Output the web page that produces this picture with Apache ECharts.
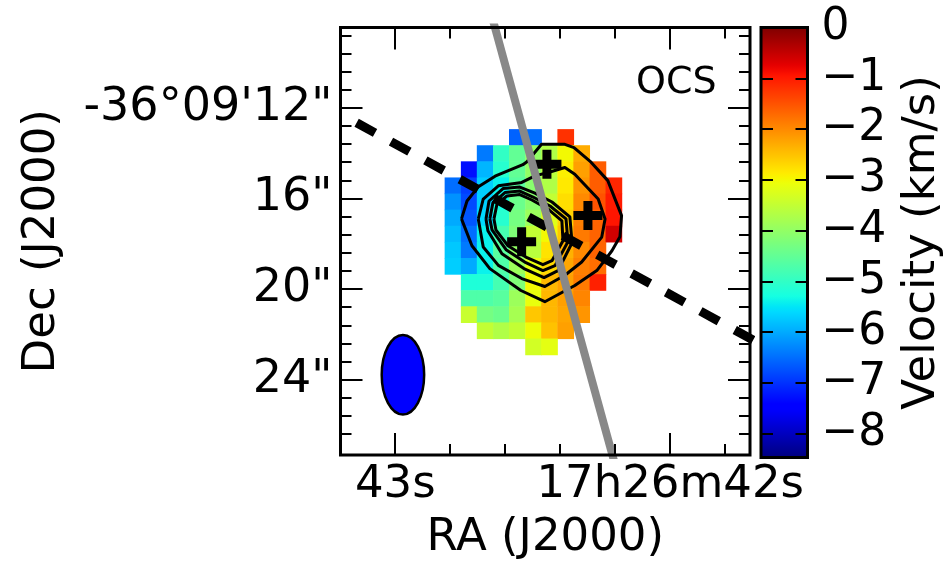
<!DOCTYPE html>
<html>
<head>
<meta charset="utf-8">
<script src="https://cdn.jsdelivr.net/npm/echarts@6.0.0/dist/echarts.min.js"></script>
<style>html,body{margin:0;padding:0;background:#fff}#c{width:947px;height:566px}</style>
</head>
<body>
<div id="c"></div>
<script>
// ---------------- DATA ----------------
// Pixel (cell) centres: RA in seconds of 17h26m, Dec in arcsec of -36d09m
const raCenters = [42.790, 42.731, 42.673, 42.614, 42.556, 42.497, 42.439, 42.380, 42.322, 42.263, 42.205];
const decCenters = [13.308, 14.019, 14.730, 15.442, 16.153, 16.864, 17.575, 18.286, 18.998, 19.709, 20.420, 21.131, 21.842, 22.554];
const cellWidthRA = 0.0585;   // s
const cellHeightDec = 0.711;  // arcsec
const n = null;
// OCS velocity (km/s), rows follow decCenters, columns follow raCenters
const velocity = [
  [n, n, n, n, -6.6, -6.5, n, -1.2, n, n, n],
  [n, n, -6.4, -5.0, -4.5, -4.0, -3.7, -3.0, -2.3, n, n],
  [n, -7.3, -5.9, -5.1, -4.5, -4.0, -3.6, -2.9, -2.2, -1.6, n],
  [-6.5, -6.9, -5.7, -5.4, -4.6, -4.1, -3.7, -2.85, -2.1, -1.6, -1.1],
  [-6.2, -6.8, -5.7, -5.3, -4.4, -4.1, -3.5, -2.75, -2.0, -1.5, -1.0],
  [-6.0, -6.7, -5.6, -5.1, -4.3, -3.9, -3.2, -2.65, -1.9, -1.65, -0.95],
  [-5.85, -6.5, -5.4, -4.8, -4.2, -3.5, -3.0, -2.55, -1.85, -1.65, -0.6],
  [-5.75, -6.4, -5.4, -4.6, -4.0, -3.6, -2.8, -2.35, -2.0, -1.65, n],
  [-5.7, -6.0, -5.4, -4.7, -3.9, -3.1, -2.7, -2.25, -1.9, -1.75, n],
  [n, -5.2, -5.2, -4.8, -4.2, -3.0, -2.4, -2.2, -1.85, -1.05, n],
  [n, -4.7, -4.7, -4.6, -3.9, -3.1, -2.4, -2.2, -1.95, n, n],
  [n, -3.45, -4.3, -4.4, -3.8, -2.55, -2.4, -2.25, -2.1, n, n],
  [n, n, -3.5, -3.7, -3.5, -3.05, -2.5, -2.2, n, n, n],
  [n, n, n, n, n, -3.35, -3.15, n, n, n, n]
];
// Continuum contours [RA s, Dec arcsec]
const contour1 = [[42.759,16.903],[42.739,16.113],[42.699,15.499],[42.637,15.016],[42.536,14.511],[42.521,14.379],[42.468,13.611],[42.383,13.611],[42.350,13.756],[42.288,14.401],[42.227,15.213],[42.177,16.759],[42.183,17.694],[42.212,18.308],[42.267,19.186],[42.347,19.845],[42.456,20.560],[42.543,20.064],[42.656,19.098],[42.721,18.089]];
const contour2 = [[42.698,16.903],[42.680,16.025],[42.625,15.442],[42.540,15.292],[42.492,15.003],[42.444,14.853],[42.383,14.634],[42.347,14.928],[42.262,16.025],[42.237,16.903],[42.249,17.707],[42.322,18.804],[42.383,19.392],[42.456,19.889],[42.540,19.537],[42.625,18.954],[42.680,18.146]];
const contour3 = [[42.670,16.903],[42.659,16.113],[42.608,15.565],[42.547,15.499],[42.492,15.762],[42.430,16.157],[42.365,16.816],[42.357,17.957],[42.408,19.186],[42.459,19.493],[42.532,19.098],[42.612,18.440],[42.663,17.430]];
const contour4 = [[42.656,16.903],[42.645,16.201],[42.601,15.740],[42.547,15.674],[42.499,15.938],[42.437,16.333],[42.379,16.903],[42.372,17.913],[42.419,18.967],[42.463,19.186],[42.525,18.835],[42.597,18.264],[42.648,17.386]];
const contour5 = [[42.641,16.903],[42.630,16.245],[42.594,15.894],[42.547,15.828],[42.503,16.069],[42.445,16.464],[42.394,16.991],[42.390,17.869],[42.430,18.747],[42.463,18.923],[42.521,18.615],[42.590,18.089],[42.634,17.386]];
// Continuum sources (plus markers)
const protostars = [[42.4484, 14.489], [42.2993, 16.750], [42.5404, 17.913]];
// Outflow axis (grey) and disk axis (dashed)
const outflowAxis = [[42.6647, 7.246], [42.188, 28.317]];
const diskAxis = [[43.1404, 12.658], [41.5284, 23.383]];
// Synthesized beam
const beamCenter = [42.972, 23.782];
const beamMajor = 3.51;   // arcsec (N-S)
const beamMinor = 1.87;   // arcsec (E-W)
const decDeg = -36.153;
// Axis ticks
const raMajorTicks = [42, 43];
const raMinorTicks = [41.8, 42.2, 42.4, 42.6, 42.8];
const decMajorTicks = [12, 16, 20, 24];
const decMinorTicks = [8.8, 9.6, 10.4, 11.2, 12.8, 13.6, 14.4, 15.2, 16.8, 17.6, 18.4, 19.2, 20.8, 21.6, 22.4, 23.2, 24.8, 25.6, 26.4];
const colorbarTicks = [-8, -7, -6, -5, -4, -3, -2, -1, 0];
const RA_MIN = 41.710, RA_MAX = 43.199;
const DEC_MIN = 8.453, DEC_MAX = 27.327;
const CB_MIN = -8.47, CB_MAX = 0;

// ---------------- STYLE ----------------
const FONT = 'DejaVu Sans';
function interp(pts, t) {
  for (let i = 1; i < pts.length; i++) {
    if (t <= pts[i][0]) {
      const a = pts[i - 1], b = pts[i];
      return a[1] + (b[1] - a[1]) * (t - a[0]) / (b[0] - a[0]);
    }
  }
  return pts[pts.length - 1][1];
}
const JR = [[0,0],[0.35,0],[0.66,1],[0.89,1],[1,0.5]];
const JG = [[0,0],[0.125,0],[0.375,1],[0.64,1],[0.91,0],[1,0]];
const JB = [[0,0.5],[0.11,1],[0.34,1],[0.65,0],[1,0]];
function jet(t) {
  const f = x => Math.round(255 * x);
  return 'rgb(' + f(interp(JR, t)) + ',' + f(interp(JG, t)) + ',' + f(interp(JB, t)) + ')';
}
const NSTOP = 81;
const jetColors = [], jetStops = [];
for (let i = 0; i < NSTOP; i++) {
  const t = i / (NSTOP - 1);
  jetColors.push(jet(t));
  jetStops.push({ offset: t, color: jet(t) });
}

const cells = [];
velocity.forEach((row, r) => row.forEach((v, c) => {
  if (v !== null) cells.push([raCenters[c], decCenters[r], v]);
}));

const tickStyle = { color: '#000', width: 2 };
const txt = { fontFamily: FONT, color: '#000' };

function raLabel(v) { return Math.abs(v - 43) < 1e-6 ? '43s' : '17h26m42s'; }
function decLabel(v) { return Math.abs(v - 12) < 1e-6 ? '-36\u00b009\'12"' : Math.round(v) + '"'; }

function ax(extra) {
  return Object.assign({
    type: 'value', z: 10, axisLine: { show: false }, splitLine: { show: false },
    axisLabel: { show: false }
  }, extra);
}

const option = {
  animation: false,
  backgroundColor: '#fff',
  grid: [
    { left: 340.5, top: 27.5, width: 409.5, height: 430, show: true, borderColor: '#000', borderWidth: 3, backgroundColor: 'transparent', z: 10 },
    { left: 761, top: 27.5, width: 46.5, height: 430, show: true, borderColor: '#000', borderWidth: 3, backgroundColor: 'transparent', z: 10 }
  ],
  xAxis: [
    ax({ gridIndex: 0, min: RA_MIN, max: RA_MAX, inverse: true, position: 'bottom',
      axisTick: { show: true, inside: true, length: 22, lineStyle: tickStyle, customValues: raMajorTicks },
      axisLabel: Object.assign({ show: true, customValues: raMajorTicks, formatter: raLabel, fontSize: 45, margin: 8 }, txt),
      name: 'RA (J2000)', nameLocation: 'middle', nameGap: 61,
      nameTextStyle: Object.assign({ fontSize: 45 }, txt) }),
    ax({ gridIndex: 0, min: RA_MIN, max: RA_MAX, inverse: true, position: 'bottom',
      axisTick: { show: true, inside: true, length: 11, lineStyle: tickStyle, customValues: raMinorTicks } }),
    ax({ gridIndex: 0, min: RA_MIN, max: RA_MAX, inverse: true, position: 'top',
      axisTick: { show: true, inside: true, length: 22, lineStyle: tickStyle, customValues: raMajorTicks } }),
    ax({ gridIndex: 0, min: RA_MIN, max: RA_MAX, inverse: true, position: 'top',
      axisTick: { show: true, inside: true, length: 11, lineStyle: tickStyle, customValues: raMinorTicks } }),
    ax({ gridIndex: 1, min: 0, max: 1, show: false })
  ],
  yAxis: [
    ax({ gridIndex: 0, min: DEC_MIN, max: DEC_MAX, inverse: true, position: 'left',
      axisTick: { show: true, inside: true, length: 22, lineStyle: tickStyle, customValues: decMajorTicks },
      axisLabel: Object.assign({ show: true, customValues: decMajorTicks, formatter: decLabel, fontSize: 46, margin: 8 }, txt),
      name: 'Dec (J2000)', nameLocation: 'middle', nameRotate: 90, nameGap: 276,
      nameTextStyle: Object.assign({ fontSize: 45 }, txt) }),
    ax({ gridIndex: 0, min: DEC_MIN, max: DEC_MAX, inverse: true, position: 'left',
      axisTick: { show: true, inside: true, length: 11, lineStyle: tickStyle, customValues: decMinorTicks } }),
    ax({ gridIndex: 0, min: DEC_MIN, max: DEC_MAX, inverse: true, position: 'right',
      axisTick: { show: true, inside: true, length: 22, lineStyle: tickStyle, customValues: decMajorTicks } }),
    ax({ gridIndex: 0, min: DEC_MIN, max: DEC_MAX, inverse: true, position: 'right',
      axisTick: { show: true, inside: true, length: 11, lineStyle: tickStyle, customValues: decMinorTicks } }),
    ax({ gridIndex: 1, min: CB_MIN, max: CB_MAX, position: 'left',
      axisTick: { show: true, inside: true, length: 12, lineStyle: tickStyle, customValues: colorbarTicks } }),
    ax({ gridIndex: 1, min: CB_MIN, max: CB_MAX, position: 'right',
      axisTick: { show: true, inside: true, length: 12, lineStyle: tickStyle, customValues: colorbarTicks },
      axisLabel: Object.assign({ show: true, customValues: colorbarTicks, fontSize: 44, margin: 14,
        formatter: v => String(Math.round(v)).replace('-', '\u2212') }, txt),
      name: 'Velocity (km/s)', nameLocation: 'middle', nameRotate: 90, nameGap: 92,
      nameTextStyle: Object.assign({ fontSize: 45 }, txt) })
  ],
  visualMap: {
    type: 'continuous', show: false, seriesIndex: 0, dimension: 2,
    min: CB_MIN, max: CB_MAX, inRange: { color: jetColors }
  },
  graphic: [
    { type: 'text', left: 636, top: 64, z: 20,
      style: { text: 'OCS', fontSize: 38, fontFamily: FONT, fill: '#000' } }
  ],
  series: []
};

// velocity pixels
option.series.push({
  type: 'custom', xAxisIndex: 0, yAxisIndex: 0, data: cells, encode: { x: 0, y: 1 }, z: 1, silent: true,
  renderItem: function (params, api) {
    const ra = api.value(0), dec = api.value(1);
    const p0 = api.coord([ra + cellWidthRA / 2, dec - cellHeightDec / 2]);
    const p1 = api.coord([ra - cellWidthRA / 2, dec + cellHeightDec / 2]);
    return {
      type: 'rect',
      shape: { x: Math.min(p0[0], p1[0]) - 0.3, y: Math.min(p0[1], p1[1]) - 0.3,
               width: Math.abs(p1[0] - p0[0]) + 0.6, height: Math.abs(p1[1] - p0[1]) + 0.6 },
      style: { fill: api.visual('color') }
    };
  }
});
// contours
[contour1, contour2, contour3, contour4, contour5].forEach(function (c) {
  option.series.push({
    type: 'line', xAxisIndex: 0, yAxisIndex: 0, data: c.concat([c[0]]), symbol: 'none',
    lineStyle: { color: '#000', width: 3, join: 'round', opacity: 1 }, z: 3, silent: true
  });
});
// disk axis (dashed)
option.series.push({
  type: 'line', xAxisIndex: 0, yAxisIndex: 0, data: diskAxis, symbol: 'none', z: 4, silent: true,
  lineStyle: { color: '#000', width: 9, type: [21, 18.2], dashOffset: 0, cap: 'butt', opacity: 1 }
});
// protostars
option.series.push({
  type: 'scatter', xAxisIndex: 0, yAxisIndex: 0, data: protostars, z: 5, silent: true,
  symbol: 'path://M0,10H10V0H19V10H29V19H19V29H10V19H0Z', symbolSize: 29,
  itemStyle: { color: '#000', opacity: 1 }
});
// beam
option.series.push({
  type: 'custom', xAxisIndex: 0, yAxisIndex: 0, z: 5, silent: true,
  data: [[beamCenter[0], beamCenter[1], beamMinor / (15 * Math.cos(decDeg * Math.PI / 180)), beamMajor]],
  encode: { x: 0, y: 1 },
  renderItem: function (params, api) {
    const c = api.coord([api.value(0), api.value(1)]);
    const s = api.size([api.value(2), api.value(3)]);
    return { type: 'ellipse', shape: { cx: c[0], cy: c[1], rx: Math.abs(s[0]) / 2, ry: Math.abs(s[1]) / 2 },
      style: { fill: '#0000ff', stroke: '#000', lineWidth: 2.5 } };
  }
});
// outflow axis (grey)
option.series.push({
  type: 'line', xAxisIndex: 0, yAxisIndex: 0, data: outflowAxis, symbol: 'none', z: 6, silent: true,
  lineStyle: { color: '#888888', width: 8, opacity: 1 }
});
// colour bar
option.series.push({
  type: 'custom', xAxisIndex: 4, yAxisIndex: 4, z: 1, silent: true,
  data: [[0, CB_MIN, 1, CB_MAX]], encode: { x: [0, 2], y: [1, 3] },
  renderItem: function (params, api) {
    const p0 = api.coord([api.value(0), api.value(1)]);
    const p1 = api.coord([api.value(2), api.value(3)]);
    return { type: 'rect',
      shape: { x: Math.min(p0[0], p1[0]), y: Math.min(p0[1], p1[1]),
               width: Math.abs(p1[0] - p0[0]), height: Math.abs(p1[1] - p0[1]) },
      style: { fill: new echarts.graphic.LinearGradient(0, 1, 0, 0, jetStops) } };
  }
});

const chart = echarts.init(document.getElementById('c'), null, { renderer: 'canvas', width: 947, height: 566 });
chart.setOption(option);
</script>
</body>
</html>
